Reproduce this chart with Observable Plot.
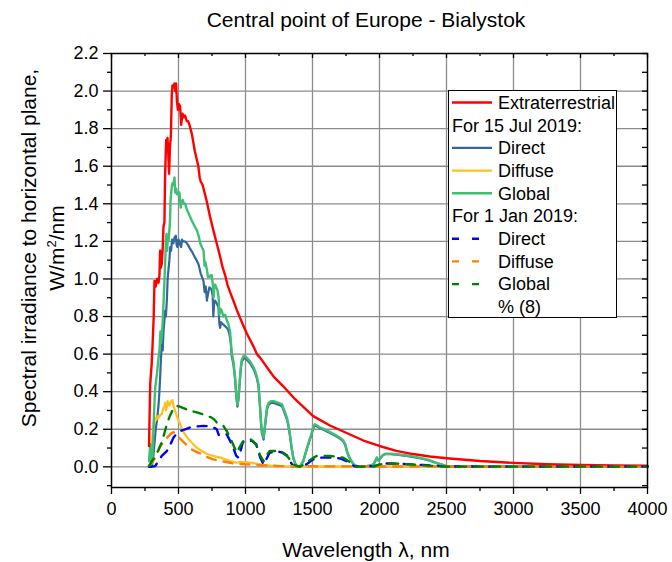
<!DOCTYPE html>
<html>
<head>
<meta charset="utf-8">
<script src="https://cdn.jsdelivr.net/npm/d3@7"></script>
<script src="https://cdn.jsdelivr.net/npm/@observablehq/plot@0.6"></script>
<style>
  body { margin: 0; background: #fff; font-family: "Liberation Sans", Arial, sans-serif; }
  #wrap { position: relative; width: 672px; height: 562px; }
  #title { position: absolute; left: 366px; top: 0; height: 40px; line-height: 40px;
           transform: translateX(-50%); white-space: nowrap; font-size: 21px; color: #000; }
  #chart { position: absolute; left: 0; top: 40px; }
</style>
</head>
<body>
<div id="wrap">
  <div id="title">Central point of Europe - Bialystok</div>
  <div id="chart"></div>
</div>
<script>
// Axis ticks
const xMajor = [0, 500, 1000, 1500, 2000, 2500, 3000, 3500, 4000];
const xMinor = [250, 750, 1250, 1750, 2250, 2750, 3250, 3750];
const xGrid = [500, 1000, 1500, 2000, 2500, 3000, 3500];
const yMajor = [0, 0.2, 0.4, 0.6, 0.8, 1.0, 1.2, 1.4, 1.6, 1.8, 2.0, 2.2];
const yMinor = [-0.1, 0.1, 0.3, 0.5, 0.7, 0.9, 1.1, 1.3, 1.5, 1.7, 1.9, 2.1];
const yGrid = [0, 0.2, 0.4, 0.6, 0.8, 1.0, 1.2, 1.4, 1.6, 1.8, 2.0];

// Extraterrestrial spectrum, W/m2/nm
const etWl = [280, 285, 289, 300, 306, 315, 321, 330, 340, 351, 358, 363, 368, 375, 382, 388, 395, 400, 408, 413, 418, 423, 430, 436, 443, 450, 455, 462, 470, 476, 482, 488, 495, 503, 512, 520, 530, 540, 549, 562, 572, 582, 600, 622, 648, 658, 665, 680, 712, 736, 760, 785, 810, 830, 848, 865, 885, 912, 935, 961, 985, 1010, 1060, 1085, 1110, 1180, 1210, 1280, 1370, 1505, 1630, 1755, 1880, 2000, 2125, 2250, 2375, 2500, 2750, 3000, 3250, 3500, 3750, 4000];
const etVal = [0.11, 0.30, 0.44, 0.55, 0.64, 0.80, 0.99, 0.96, 1.00, 0.98, 1.02, 1.15, 1.06, 1.08, 1.16, 1.28, 1.30, 1.55, 1.74, 1.70, 1.75, 1.68, 1.56, 1.70, 1.76, 1.98, 2.03, 2.02, 2.04, 2.00, 2.04, 1.95, 1.90, 1.93, 1.92, 1.82, 1.88, 1.86, 1.87, 1.84, 1.84, 1.82, 1.77, 1.68, 1.60, 1.54, 1.52, 1.50, 1.41, 1.33, 1.26, 1.19, 1.12, 1.06, 1.02, 0.97, 0.93, 0.88, 0.835, 0.79, 0.75, 0.71, 0.64, 0.60, 0.58, 0.51, 0.48, 0.43, 0.36, 0.27, 0.22, 0.18, 0.14, 0.111, 0.085, 0.068, 0.055, 0.046, 0.031, 0.021, 0.014, 0.010, 0.008, 0.006];

// 15 Jul 2019: global
const julGlobalWl = [280, 285, 290, 296, 302, 310, 318, 326, 340, 351, 358, 365, 370, 378, 384, 390, 400, 406, 410, 415, 420, 425, 430, 436, 441, 448, 455, 462, 470, 476, 482, 488, 495, 507, 517, 523, 532, 541, 550, 562, 575, 600, 620, 637, 650, 662, 674, 687, 695, 700, 712, 720, 730, 740, 748, 756, 762, 766, 773, 791, 800, 805, 815, 823, 835, 848, 860, 872, 885, 897, 910, 922, 932, 940, 948, 955, 965, 972, 985, 997, 1010, 1035, 1060, 1072, 1085, 1097, 1105, 1110, 1116, 1122, 1135, 1145, 1160, 1172, 1190, 1210, 1230, 1247, 1272, 1290, 1310, 1322, 1332, 1345, 1357, 1370, 1382, 1405, 1430, 1450, 1467, 1480, 1492, 1505, 1517, 1535, 1555, 1590, 1630, 1670, 1705, 1730, 1745, 1755, 1770, 1792, 1810, 1830, 1905, 1930, 1955, 1970, 1980, 1992, 2005, 2020, 2042, 2080, 2130, 2200, 2255, 2320, 2375, 2430, 2475, 2500, 2700, 3000, 3500, 4000];
const julGlobalVal = [0.03, 0.08, 0.12, 0.03, 0.02, 0.12, 0.30, 0.42, 0.50, 0.58, 0.62, 0.72, 0.66, 0.72, 0.80, 0.90, 1.08, 1.20, 1.24, 1.15, 1.22, 1.20, 1.24, 1.30, 1.42, 1.48, 1.51, 1.50, 1.54, 1.46, 1.48, 1.45, 1.45, 1.46, 1.38, 1.41, 1.42, 1.40, 1.40, 1.37, 1.35, 1.31, 1.28, 1.26, 1.23, 1.19, 1.17, 1.15, 1.07, 1.09, 1.05, 1.01, 1.01, 1.02, 1.02, 0.97, 0.90, 0.95, 0.97, 0.94, 0.90, 0.81, 0.84, 0.83, 0.80, 0.81, 0.78, 0.76, 0.72, 0.61, 0.56, 0.48, 0.38, 0.33, 0.37, 0.44, 0.53, 0.57, 0.59, 0.59, 0.58, 0.56, 0.53, 0.51, 0.48, 0.44, 0.36, 0.31, 0.24, 0.19, 0.155, 0.22, 0.315, 0.34, 0.35, 0.35, 0.345, 0.34, 0.333, 0.30, 0.26, 0.22, 0.17, 0.10, 0.05, 0.02, 0.005, 0.0, 0.03, 0.08, 0.12, 0.15, 0.173, 0.21, 0.227, 0.22, 0.21, 0.20, 0.185, 0.17, 0.155, 0.14, 0.12, 0.09, 0.06, 0.03, 0.01, 0.004, 0.004, 0.008, 0.013, 0.035, 0.05, 0.035, 0.045, 0.06, 0.07, 0.07, 0.067, 0.06, 0.054, 0.045, 0.035, 0.02, 0.01, 0.003, 0.002, 0.002, 0.002, 0.002];

// 15 Jul 2019: direct
const julDirectWl = [280, 290, 300, 310, 320, 330, 340, 350, 356, 362, 368, 375, 382, 388, 395, 400, 406, 413, 419, 425, 432, 438, 445, 452, 462, 470, 480, 486, 492, 500, 507, 513, 520, 526, 532, 545, 557, 572, 587, 605, 622, 635, 648, 656, 665, 676, 686, 695, 703, 712, 720, 730, 740, 748, 755, 760, 766, 773, 785, 798, 805, 811, 817, 830, 845, 860, 870, 880, 890, 897, 910, 922, 932, 940, 948, 955, 965, 972, 985, 997, 1010, 1035, 1060, 1072, 1085, 1097, 1105, 1110, 1116, 1122, 1135, 1145, 1160, 1172, 1190, 1210, 1230, 1247, 1272, 1290, 1310, 1322, 1332, 1345, 1357, 1370, 1382, 1405, 1430, 1450, 1467, 1480, 1492, 1505, 1517, 1535, 1555, 1590, 1630, 1670, 1705, 1730, 1745, 1755, 1770, 1792, 1810, 1830, 1905, 1930, 1955, 1970, 1980, 1992, 2005, 2020, 2042, 2080, 2130, 2200, 2255, 2320, 2375, 2430, 2475, 2500, 3000, 4000];
const julDirectVal = [0.0, 0.01, 0.0, 0.04, 0.12, 0.20, 0.25, 0.32, 0.38, 0.46, 0.56, 0.65, 0.62, 0.72, 0.78, 0.83, 0.80, 0.885, 1.00, 1.05, 1.10, 1.17, 1.15, 1.21, 1.19, 1.22, 1.23, 1.18, 1.17, 1.21, 1.20, 1.18, 1.17, 1.21, 1.20, 1.20, 1.195, 1.18, 1.16, 1.14, 1.115, 1.10, 1.08, 1.06, 1.03, 1.01, 0.99, 0.93, 0.96, 0.885, 0.92, 0.955, 0.95, 0.94, 0.91, 0.80, 0.87, 0.885, 0.87, 0.85, 0.76, 0.74, 0.77, 0.76, 0.75, 0.74, 0.73, 0.707, 0.66, 0.59, 0.545, 0.465, 0.37, 0.32, 0.36, 0.43, 0.52, 0.56, 0.575, 0.58, 0.57, 0.55, 0.52, 0.50, 0.47, 0.43, 0.35, 0.30, 0.23, 0.18, 0.145, 0.21, 0.305, 0.33, 0.34, 0.34, 0.335, 0.33, 0.323, 0.29, 0.25, 0.21, 0.165, 0.095, 0.045, 0.018, 0.004, 0.0, 0.028, 0.075, 0.115, 0.145, 0.168, 0.205, 0.222, 0.215, 0.205, 0.195, 0.18, 0.165, 0.15, 0.135, 0.115, 0.085, 0.055, 0.028, 0.01, 0.004, 0.004, 0.007, 0.012, 0.033, 0.048, 0.033, 0.043, 0.058, 0.068, 0.068, 0.065, 0.058, 0.052, 0.043, 0.033, 0.019, 0.009, 0.003, 0.002, 0.002];

// 15 Jul 2019: diffuse
const julDiffuseWl = [280, 290, 301, 310, 318, 326, 335, 345, 351, 360, 368, 375, 382, 388, 395, 400, 406, 413, 418, 425, 433, 440, 448, 455, 462, 470, 482, 495, 512, 530, 549, 565, 587, 610, 637, 660, 686, 710, 736, 770, 811, 850, 885, 910, 935, 960, 1000, 1035, 1085, 1135, 1190, 1235, 1330, 2000, 3000, 4000];
const julDiffuseVal = [0.03, 0.06, 0.14, 0.20, 0.25, 0.26, 0.25, 0.27, 0.26, 0.27, 0.28, 0.28, 0.30, 0.315, 0.32, 0.34, 0.30, 0.315, 0.35, 0.34, 0.325, 0.34, 0.35, 0.355, 0.325, 0.31, 0.28, 0.255, 0.227, 0.195, 0.173, 0.155, 0.138, 0.12, 0.102, 0.09, 0.079, 0.07, 0.063, 0.056, 0.049, 0.04, 0.031, 0.027, 0.022, 0.026, 0.024, 0.022, 0.016, 0.010, 0.006, 0.004, 0.002, 0.002, 0.001, 0.001];

// 1 Jan 2019: direct
const janDirectWl = [280, 290, 326, 350, 375, 413, 440, 462, 490, 512, 550, 587, 640, 686, 720, 760, 786, 800, 823, 845, 860, 885, 897, 910, 930, 947, 965, 980, 997, 1047, 1080, 1110, 1135, 1155, 1180, 1230, 1280, 1310, 1332, 1357, 1405, 1455, 1505, 1555, 1655, 1705, 1755, 1780, 1817, 1960, 2005, 2060, 2130, 2230, 2325, 2450, 2500, 3000, 4000];
const janDirectVal = [0.0, 0.0, 0.004, 0.03, 0.058, 0.084, 0.12, 0.155, 0.18, 0.19, 0.20, 0.21, 0.215, 0.218, 0.216, 0.21, 0.20, 0.17, 0.165, 0.17, 0.173, 0.138, 0.12, 0.10, 0.06, 0.049, 0.09, 0.13, 0.138, 0.138, 0.12, 0.049, 0.013, 0.04, 0.075, 0.084, 0.075, 0.06, 0.03, 0.004, 0.004, 0.013, 0.04, 0.049, 0.049, 0.045, 0.03, 0.013, 0.003, 0.003, 0.013, 0.018, 0.017, 0.013, 0.010, 0.004, 0.002, 0.001, 0.001];

// 1 Jan 2019: diffuse
const janDiffuseWl = [280, 300, 330, 363, 388, 415, 438, 462, 480, 512, 540, 562, 600, 637, 662, 712, 760, 786, 885, 910, 1010, 1135, 1260, 1400, 2000, 3000, 4000];
const janDiffuseVal = [0.005, 0.02, 0.05, 0.11, 0.13, 0.155, 0.173, 0.185, 0.175, 0.15, 0.13, 0.115, 0.092, 0.078, 0.072, 0.052, 0.04, 0.035, 0.022, 0.017, 0.013, 0.008, 0.004, 0.003, 0.002, 0.001, 0.001];

// 1 Jan 2019: global
const janGlobalWl = [280, 301, 330, 350, 375, 395, 413, 435, 455, 470, 487, 510, 537, 580, 637, 680, 712, 748, 770, 786, 810, 835, 860, 885, 910, 935, 960, 985, 1035, 1060, 1085, 1110, 1135, 1155, 1180, 1255, 1310, 1335, 1357, 1405, 1455, 1500, 1530, 1630, 1730, 1770, 1792, 1830, 1960, 2005, 2060, 2130, 2230, 2325, 2450, 2500, 3000, 4000];
const janGlobalVal = [0.004, 0.03, 0.06, 0.09, 0.13, 0.18, 0.227, 0.27, 0.30, 0.315, 0.325, 0.32, 0.312, 0.30, 0.29, 0.28, 0.27, 0.262, 0.25, 0.235, 0.225, 0.218, 0.19, 0.155, 0.115, 0.075, 0.11, 0.138, 0.147, 0.135, 0.111, 0.06, 0.03, 0.06, 0.084, 0.084, 0.058, 0.035, 0.013, 0.0, 0.022, 0.045, 0.058, 0.058, 0.049, 0.03, 0.013, 0.0, 0.003, 0.013, 0.018, 0.017, 0.013, 0.008, 0.003, 0.001, 0.001, 0.001];

const rows = (wl, val) => wl.map((w, i) => ({wl: w, v: val[i]}));

const colors = {
  et: "#ff0000",
  julDirect: "#34679a",
  julDiffuse: "#ffc020",
  julGlobal: "#3fbf73",
  janDirect: "#0000ff",
  janDiffuse: "#ff8000",
  janGlobal: "#008000"
};
const dash = "9,8";

const W = 672, H = 522;
const mL = 111, mR = 25, mT = 13, mB = 75;
const plotW = W - mL - mR, plotH = H - mT - mB;

const gridStyle = {stroke: "#8c8c8c", strokeOpacity: 1, strokeWidth: 1.3};

const svg = Plot.plot({
  width: W,
  height: H,
  marginLeft: mL,
  marginRight: mR,
  marginTop: mT,
  marginBottom: mB,
  style: {fontFamily: '"Liberation Sans", Arial, sans-serif', fontSize: "18px", background: "white", color: "black", overflow: "visible"},
  x: {domain: [0, 4000]},
  y: {domain: [-0.11, 2.2]},
  marks: [
    Plot.gridX({ticks: xGrid, ...gridStyle}),
    Plot.gridY({ticks: yGrid, ...gridStyle}),
    // outward ticks with labels on bottom and left
    Plot.axisX({ticks: xMajor, tickSize: 7, tickPadding: 8, label: null, fontSize: 18, tickFormat: d => String(d), strokeWidth: 1.3}),
    Plot.axisX({ticks: xMinor, tickSize: 4, label: null, tickFormat: () => "", strokeWidth: 1.3}),
    Plot.axisY({ticks: yMajor, tickSize: 8, tickPadding: 5, label: null, fontSize: 18, tickFormat: d3.format(".1f"), strokeWidth: 1.3}),
    Plot.axisY({ticks: yMinor, tickSize: 4, label: null, tickFormat: () => "", strokeWidth: 1.3}),
    // inward ticks on top and right edges
    Plot.tickX(xMajor, {x: d => d, insetBottom: plotH - 5, stroke: "black", strokeWidth: 1.3}),
    Plot.tickX(xMinor, {x: d => d, insetBottom: plotH - 3, stroke: "black", strokeWidth: 1.3}),
    Plot.tickY(yMajor, {y: d => d, insetLeft: plotW - 5, stroke: "black", strokeWidth: 1.3}),
    Plot.tickY(yMinor, {y: d => d, insetLeft: plotW - 5, stroke: "black", strokeWidth: 1.3}),
    // spectra
    Plot.line(rows(julDirectWl, julDirectVal), {x: "wl", y: "v", stroke: colors.julDirect, strokeWidth: 2.2}),
    Plot.line(rows(julDiffuseWl, julDiffuseVal), {x: "wl", y: "v", stroke: colors.julDiffuse, strokeWidth: 2.2}),
    Plot.line(rows(julGlobalWl, julGlobalVal), {x: "wl", y: "v", stroke: colors.julGlobal, strokeWidth: 2.4}),
    Plot.line(rows(etWl, etVal), {x: "wl", y: "v", stroke: colors.et, strokeWidth: 2.4}),
    Plot.line(rows(janDirectWl, janDirectVal), {x: "wl", y: "v", stroke: colors.janDirect, strokeWidth: 2.4, strokeDasharray: dash}),
    Plot.line(rows(janDiffuseWl, janDiffuseVal), {x: "wl", y: "v", stroke: colors.janDiffuse, strokeWidth: 2.4, strokeDasharray: dash}),
    Plot.line(rows(janGlobalWl, janGlobalVal), {x: "wl", y: "v", stroke: colors.janGlobal, strokeWidth: 2.4, strokeDasharray: dash}),
    Plot.frame({stroke: "black", strokeWidth: 1.5})
  ]
});

document.getElementById("chart").appendChild(svg);

const s = d3.select(svg);
const font = '"Liberation Sans", Arial, sans-serif';

// x axis title
s.append("text")
  .attr("x", 366).attr("y", 517)
  .attr("text-anchor", "middle")
  .attr("font-family", font).attr("font-size", 21).attr("fill", "black")
  .text("Wavelength λ, nm");

// y axis title, two lines
const yTitle = s.append("g").attr("font-family", font).attr("font-size", 21).attr("fill", "black").attr("text-anchor", "middle");
yTitle.append("text")
  .attr("transform", "translate(36,208) rotate(-90)")
  .text("Spectral irradiance to horizontal plane,");
const l2 = yTitle.append("text").attr("transform", "translate(63.5,208) rotate(-90)");
l2.append("tspan").text("W/m");
l2.append("tspan").attr("font-size", 13).attr("dy", -8).text("2");
l2.append("tspan").attr("dy", 8).text("/nm");

// legend
const leg = s.append("g")
  .attr("font-family", font).attr("font-size", 18).attr("fill", "black")
  .attr("text-anchor", "start");
leg.append("rect")
  .attr("x", 448.5).attr("y", 50.5).attr("width", 168).attr("height", 227)
  .attr("fill", "white").attr("stroke", "black").attr("stroke-width", 1);

const legendItems = [
  {label: "Extraterrestrial", color: colors.et},
  {label: "For 15 Jul 2019:", header: true},
  {label: "Direct", color: colors.julDirect},
  {label: "Diffuse", color: colors.julDiffuse},
  {label: "Global", color: colors.julGlobal},
  {label: "For 1 Jan 2019:", header: true},
  {label: "Direct", color: colors.janDirect, dashed: true},
  {label: "Diffuse", color: colors.janDiffuse, dashed: true},
  {label: "Global", color: colors.janGlobal, dashed: true},
  {label: "% (8)"}
];
legendItems.forEach((it, i) => {
  const cy = 62.5 + i * 22.7;
  if (it.color) {
    leg.append("line")
      .attr("x1", 452).attr("x2", 492).attr("y1", cy).attr("y2", cy)
      .attr("stroke", it.color).attr("stroke-width", 2.4)
      .attr("stroke-dasharray", it.dashed ? "7,13" : null);
  }
  leg.append("text")
    .attr("x", it.header ? 452 : 498).attr("y", cy).attr("dy", "0.35em")
    .text(it.label);
});
</script>
</body>
</html>
